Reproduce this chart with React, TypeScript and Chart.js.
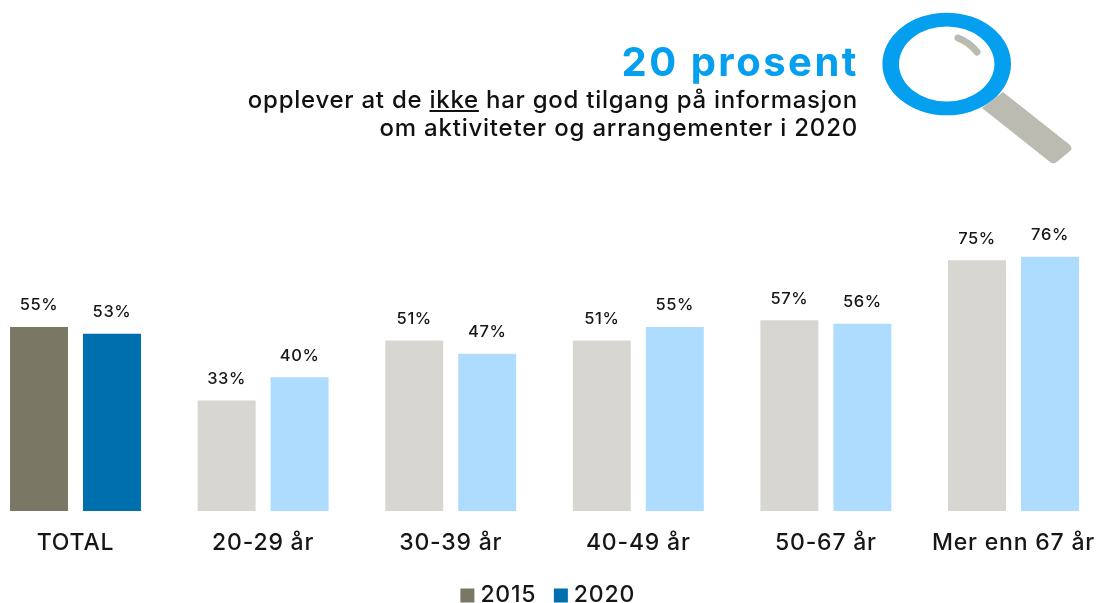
import React, { useEffect, useRef } from "react";
import { Chart, registerables } from "chart.js";

Chart.register(...registerables);

const categories = ["TOTAL", "20-29 år", "30-39 år", "40-49 år", "50-67 år", "Mer enn 67 år"];
const seriesNames = ["2015", "2020"];
const values2015 = [55, 33, 51, 51, 57, 75];
const values2020 = [53, 40, 47, 55, 56, 76];
const colors2015 = ["#7a7865", "#d7d6d1", "#d7d6d1", "#d7d6d1", "#d7d6d1", "#d7d6d1"];
const colors2020 = ["#006fae", "#aedcff", "#aedcff", "#aedcff", "#aedcff", "#aedcff"];
const legendColors = ["#7a7865", "#006fae"];
const FONT = "Inter, 'Noto Sans', sans-serif";
const INK = "#161616";

const spacing = {
  id: "spacing",
  beforeLayout(chart: any) {
    chart.ctx.letterSpacing = "0.8px";
  },
  beforeDraw(chart: any) {
    chart.ctx.letterSpacing = "0.8px";
  },
};

const valueLabels = {
  id: "valueLabels",
  afterDatasetsDraw(chart: any) {
    const { ctx } = chart;
    ctx.save();
    ctx.letterSpacing = "0.6px";
    ctx.font = `500 16.5px ${FONT}`;
    ctx.fillStyle = INK;
    ctx.textAlign = "center";
    ctx.textBaseline = "middle";
    chart.data.datasets.forEach((ds: any, i: number) => {
      chart.getDatasetMeta(i).data.forEach((el: any, j: number) => {
        ctx.fillText(`${ds.data[j]}%`, el.x, el.y - 21.5);
      });
    });
    ctx.restore();
  },
};

export default function App() {
  const ref = useRef<HTMLCanvasElement>(null);
  useEffect(() => {
    const chart = new Chart(ref.current!, {
      type: "bar",
      data: {
        labels: categories,
        datasets: [
          { label: seriesNames[0], data: values2015, backgroundColor: colors2015, categoryPercentage: 0.778, barPercentage: 0.7945 },
          { label: seriesNames[1], data: values2020, backgroundColor: colors2020, categoryPercentage: 0.778, barPercentage: 0.7945 },
        ],
      },
      options: {
        responsive: false,
        animation: false,
        layout: { padding: { left: 21.7, right: 0.7, top: 176.5, bottom: 0 } },
        scales: {
          x: {
            grid: { display: false },
            border: { display: false },
            ticks: { color: INK, font: { family: FONT, size: 23, weight: "500" }, padding: 10, autoSkip: false, maxRotation: 0 },
            afterFit: (s: any) => { s.height = 50; },
          },
          y: {
            position: "right",
            min: 0,
            max: 100,
            grid: { display: false },
            border: { display: false },
            ticks: { display: false },
            afterFit: (s: any) => { s.width = 12; },
          },
        },
        plugins: {
          tooltip: { enabled: false },
          legend: {
            position: "bottom",
            labels: {
              padding: 23,
              boxWidth: 3,
              boxHeight: 3,
              color: INK,
              font: { family: FONT, size: 23, weight: "500" },
              generateLabels: () =>
                seriesNames.map((text, i) => ({
                  text,
                  fillStyle: legendColors[i],
                  strokeStyle: legendColors[i],
                  lineWidth: 11,
                  fontColor: INK,
                  datasetIndex: i,
                })),
            },
          },
        },
      },
      plugins: [spacing, valueLabels],
    } as any);
    return () => chart.destroy();
  }, []);

  return (
    <div style={{ position: "fixed", inset: 0, overflow: "hidden", background: "#fff" }}>
      <canvas ref={ref} width={1160} height={617} style={{ position: "absolute", left: -40, top: 0 }} />
      <div style={{ position: "absolute", right: 240, top: 34, textAlign: "right", fontFamily: FONT, whiteSpace: "nowrap", color: "#111" }}>
        <div style={{ fontSize: 40, fontWeight: 700, lineHeight: "52px", color: "#059fef", letterSpacing: 2.5, position: "relative", top: 2, marginRight: -1 }}>20 prosent</div>
        <div style={{ fontSize: 24, fontWeight: 500, lineHeight: "28px", letterSpacing: 0.74 }}>
          opplever at de <u>ikke</u> har god tilgang på informasjon
        </div>
        <div style={{ fontSize: 24, fontWeight: 500, lineHeight: "28px", letterSpacing: 0.78 }}>om aktiviteter og arrangementer i 2020</div>
      </div>
      <svg width={1098} height={603} style={{ position: "absolute", left: 0, top: 0, pointerEvents: "none" }}>
        <path d="M1003 92 L1070 145 Q1073 149 1070 151 L1058 161 Q1054 165 1050 162 L982 108 Z" fill="#bbbbb1" />
        <path
          fillRule="evenodd"
          fill="#059fef"
          d="M882.4 64 a64.3 51.3 0 1 0 128.6 0 a64.3 51.3 0 1 0 -128.6 0 Z M899 64 a47.7 37.5 0 1 0 95.4 0 a47.7 37.5 0 1 0 -95.4 0 Z"
        />
        <path d="M958 38 Q969 42 977 52" fill="none" stroke="#bbbbb1" strokeWidth={7} strokeLinecap="round" />
      </svg>
    </div>
  );
}
